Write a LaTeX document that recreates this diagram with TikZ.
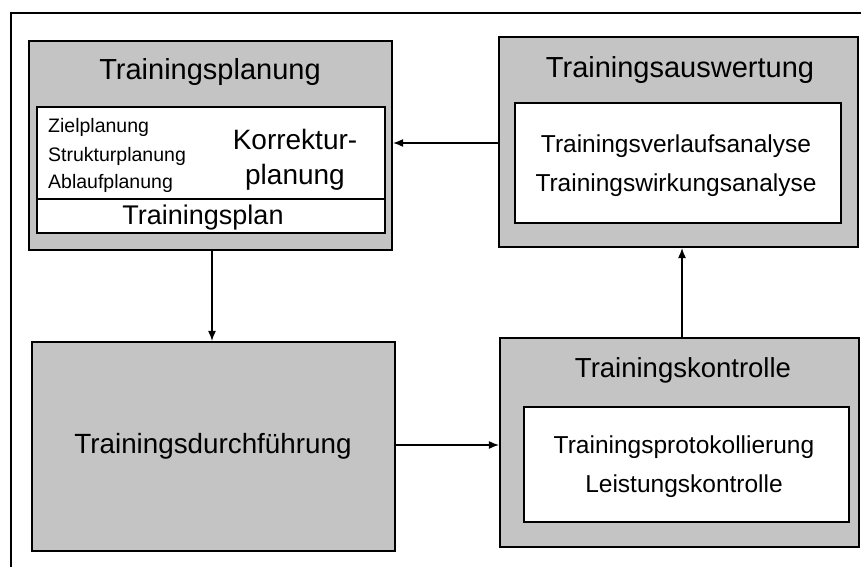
\documentclass[tikz,border=0pt]{standalone}
\usepackage{fontspec}
\setmainfont{Liberation Sans}
\usetikzlibrary{arrows.meta,calc}
\tikzset{
  x=1pt,y=-1pt,
  outerbox/.style={draw=black,line width=2.2pt,fill=black!23,rectangle,inner sep=0pt},
  innerbox/.style={draw=black,line width=2pt,fill=white,rectangle,inner sep=0pt},
  conn/.style={draw=black,line width=1.2pt,-{Latex[length=10pt,width=8pt]}},
  titletext/.style={inner sep=0pt,font=\fontsize{29}{34}\selectfont},
  itemtext/.style={inner sep=0pt,align=center,font=\fontsize{24.5}{39}\selectfont},
  smalltext/.style={inner sep=0pt,anchor=west,font=\fontsize{19.5}{23}\selectfont},
}
\begin{document}
\begin{tikzpicture}
\useasboundingbox (0,0) rectangle (861,567);
\fill[white] (0,0) rectangle (861,567);
% frame
\draw[line width=1.5pt] (11,567) -- (11,13) -- (861,13);

% Box 1: Trainingsplanung
\node[outerbox,minimum width=363pt,minimum height=209pt] (b1) at (210.5,145.5) {};
\node[innerbox,minimum width=348pt,minimum height=126pt] (i1) at (211,170) {};
\draw[line width=2pt] (i1.west |- 0,199) coordinate (d1) -- (d1 -| i1.east) coordinate (d2);
\node[titletext] (t1) at (210,72) {Trainingsplanung};
\node[smalltext] (z1) at (48,127) {Zielplanung};
\node[smalltext] (z2) at (48,156) {Strukturplanung};
\node[smalltext] (z3) at (48,183) {Ablaufplanung};
\node[inner sep=0pt,font=\fontsize{28}{35}\selectfont,align=center] (k1) at (295,160) {Korrektur-\\planung};
\node[inner sep=0pt,font=\fontsize{27}{32}\selectfont] (tp) at (203,218) {Trainingsplan};

% Box 2: Trainingsauswertung
\node[outerbox,minimum width=359pt,minimum height=210pt] (b2) at (678.5,142) {};
\node[innerbox,minimum width=326pt,minimum height=120pt] (i2) at (678,163) {};
\node[titletext] (t2) at (680,70) {Trainingsauswertung};
\node[itemtext] (a2) at (676,165.5) {Trainingsverlaufsanalyse\\Trainingswirkungsanalyse};

% Box 3: Trainingsdurchfuehrung
\node[outerbox,minimum width=363pt,minimum height=209pt] (b3) at (213.5,446.5) {};
\node[inner sep=0pt,font=\fontsize{27.8}{33}\selectfont] (t3) at (213,446) {Trainingsdurchführung};

% Box 4: Trainingskontrolle
\node[outerbox,minimum width=359pt,minimum height=209pt] (b4) at (679.5,442.5) {};
\node[innerbox,minimum width=325pt,minimum height=115pt] (i4) at (686.5,464.5) {};
\node[inner sep=0pt,font=\fontsize{27.5}{33}\selectfont] (t4) at (683,370) {Trainingskontrolle};
\node[itemtext,align=center] (a4) at (684,466.5) {Trainingsprotokollierung\\Leistungskontrolle};

% connectors
\draw[conn] (b2.west |- 0,143) coordinate (c1) -- (c1 -| b1.east);
\draw[conn] (b1.south -| 212,0) coordinate (c2) -- (c2 |- b3.north);
\draw[conn] (b3.east |- 0,445) coordinate (c3) -- (c3 -| b4.west);
\draw[conn] (b4.north -| 682,0) coordinate (c4) -- (c4 |- b2.south);
\end{tikzpicture}
\end{document}
